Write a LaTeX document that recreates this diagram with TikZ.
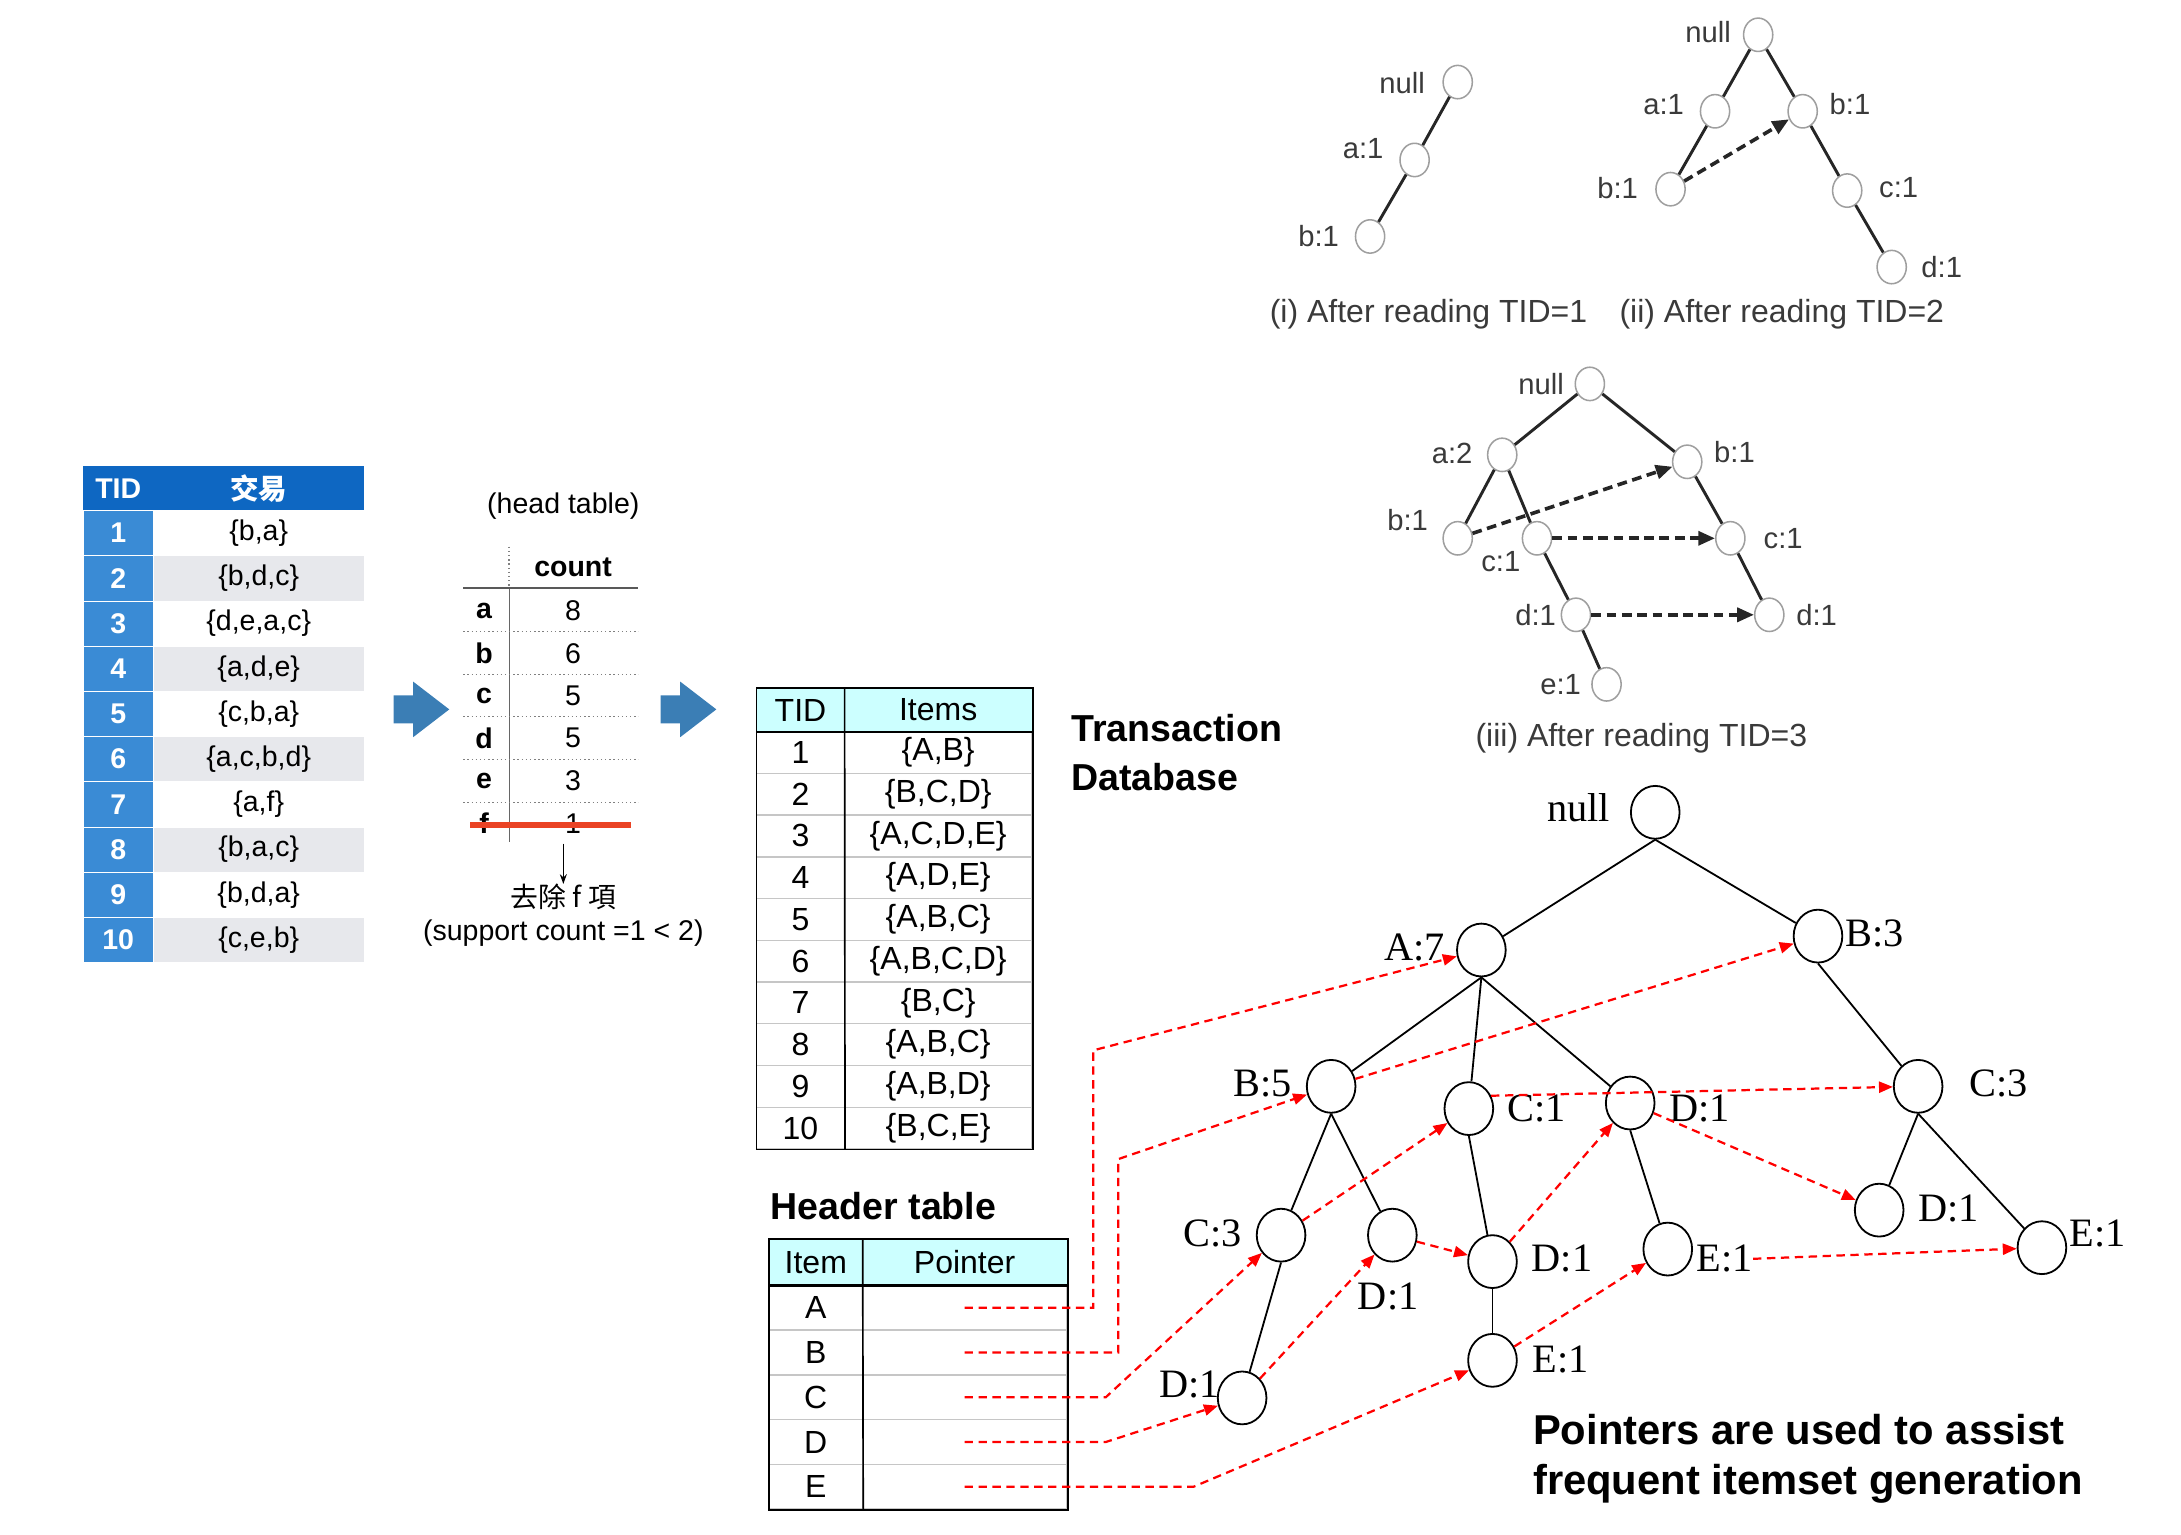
\documentclass[tikz,border=0pt]{standalone}
\usepackage{fontspec}
\setmainfont{Liberation Sans}
\newfontfamily\serifface{Liberation Serif}
\newfontfamily\cjkface{Noto Sans CJK TC}
\usepackage{tikz}
\usetikzlibrary{shapes.geometric, arrows.meta, positioning, calc}
\definecolor{hdblue}{HTML}{0E67C2}
\definecolor{tidblue}{HTML}{3A8BD5}
\definecolor{rowgray}{HTML}{E7E8EC}
\definecolor{paleaqua}{HTML}{CCFFFF}
\definecolor{steelarrow}{HTML}{3B7EB5}
\definecolor{cutred}{HTML}{EA4324}
\definecolor{inkgray}{HTML}{3A3A3A}
\tikzset{
  tidhd/.style    = {rectangle, fill=hdblue, text=white, inner sep=0,
                     minimum height=32, font=\bfseries\fontsize{20.5}{22}\selectfont},
  tidcell/.style  = {rectangle, fill=tidblue, draw=white, text=white, inner sep=0,
                     minimum width=50, minimum height=32.5,
                     font=\bfseries\fontsize{20.5}{22}\selectfont},
  txcell/.style   = {rectangle, draw=white, inner sep=0, minimum width=152,
                     minimum height=32.5, font=\fontsize{20.5}{22}\selectfont},
  hdtxt/.style    = {inner sep=0, font=\fontsize{20.5}{22}\selectfont},
  hdkey/.style    = {inner sep=0, font=\bfseries\fontsize{20.5}{22}\selectfont},
  dbhd/.style     = {rectangle, fill=paleaqua, inner sep=0, minimum height=31,
                     font=\fontsize{23}{25}\selectfont},
  dbcell/.style   = {rectangle, draw=gray!45, line width=1, inner sep=0,
                     minimum height=30, font=\fontsize{23}{25}\selectfont},
  hthd/.style     = {rectangle, fill=paleaqua, inner sep=0, minimum height=33,
                     font=\fontsize{23}{25}\selectfont},
  htcell/.style   = {rectangle, draw=gray!45, line width=1.2, inner sep=0,
                     minimum height=32.2, font=\fontsize{23}{25}\selectfont},
  bigbold/.style  = {inner sep=0, align=left,
                     font=\bfseries\fontsize{27}{35}\selectfont},
  fpnode/.style   = {ellipse, draw, line width=1.3, minimum width=35,
                     minimum height=38, inner sep=0},
  fplabel/.style  = {inner sep=0, font=\serifface\fontsize{29}{29}\selectfont},
  fpedge/.style   = {line width=1.3},
  ptr/.style      = {red, line width=1.6, dash pattern=on 6 off 4,
                     -{Triangle[length=10, width=8]}},
  mini/.style     = {ellipse, draw=gray!75, line width=1.1, minimum width=21,
                     minimum height=24, inner sep=0},
  minilabel/.style= {inner sep=0, text=inkgray, font=\fontsize{21}{21}\selectfont},
  miniedge/.style = {line width=2.1, black!85},
  minilink/.style = {line width=2.6, black!85, dash pattern=on 7 off 4,
                     -{Triangle[length=12, width=10]}},
}

\begin{document}
\begin{tikzpicture}[x=1pt, y=-1pt]
  \useasboundingbox (0,0) rectangle (1568,1103);

  % raw transactions
  \node[tidhd, minimum width=50] (tidH) at (85,351) {TID};
  \node[tidhd, minimum width=152] (txH) at (186,351) {\cjkface 交易};
  \foreach \i/\s/\c in {1/{b,a}/white, 2/{b,d,c}/rowgray, 3/{d,e,a,c}/white,
      4/{a,d,e}/rowgray, 5/{c,b,a}/white, 6/{a,c,b,d}/rowgray, 7/{a,f}/white,
      8/{b,a,c}/rowgray, 9/{b,d,a}/white, 10/{c,e,b}/rowgray} {
    \node[tidcell] (tid\i) at (85,{367+32.5*(\i-0.5)}) {\i};
    \node[txcell, fill=\c] (tx\i) at (186,{367+32.5*(\i-0.5)}) {\{\s\}};
  }

  \coordinate (go1) at (283,510);
  \coordinate (go2) at (475,510);
  \foreach \c in {go1, go2}
    \fill[steelarrow] (\c) ++(0,-10) -- ++(14,0) -- ++(0,-10) -- ++(26,20)
      -- ++(-26,20) -- ++(0,-10) -- ++(-14,0) -- cycle;

  % head table
  \node[hdtxt] (headT) at (405,364) {(head table)};
  \node[hdkey] (countH) at (412,408) {count};
  \foreach \k/\v [count=\j] in {a/8, b/6, c/5, d/5, e/3, f/1} {
    \node[hdkey] (key\k) at (348,{439+30.6*(\j-1)}) {\k};
    \node[hdtxt] (val\k) at (412,{439+30.6*(\j-1)}) {\v};
  }
  \draw[gray, dotted, line width=1] (366,393) -- (366,423);
  \draw[gray!80!black, line width=0.8] (366,423) -- (366,605);
  \draw[gray!70!black, line width=1.4] (333,423) -- (459,423);
  \foreach \y in {454,485,515,546,577}
    \draw[gray, dotted, line width=1] (333,\y) -- (459,\y);
  \draw[cutred, line width=4] (338,593) -- (454,593);
  \node[inner sep=0, font=\cjkface\fontsize{20}{22}\selectfont] (drop) at (405,645) {去除 f 項};
  \node[hdtxt] (why) at (405,671) {(support count =1 < 2)};
  \draw[line width=1, -{Stealth[length=7, width=5]}] (drop.north) ++(0,-29) -- (drop.north);

  % transaction database
  \node[dbhd, minimum width=63] (dbTID) at (575.5,510.5) {TID};
  \node[dbhd, minimum width=135] (dbItems) at (674.5,510.5) {Items};
  \foreach \i/\s in {1/{A,B}, 2/{B,C,D}, 3/{A,C,D,E}, 4/{A,D,E}, 5/{A,B,C},
      6/{A,B,C,D}, 7/{B,C}, 8/{A,B,C}, 9/{A,B,D}, 10/{B,C,E}} {
    \node[dbcell, minimum width=63] (dbt\i) at (575.5,{526+30*(\i-0.5)}) {\i};
    \node[dbcell, minimum width=135] (dbi\i) at (674.5,{526+30*(\i-0.5)}) {\{\s\}};
  }
  \draw[line width=1.2] (dbTID.north west) rectangle (dbi10.south east);
  \draw[line width=1.2] (dbTID.north east) -- (dbt10.south east);
  \draw[line width=1.2] (dbTID.south west) -- (dbItems.south east);
  \node[bigbold, anchor=west] (dbname) at (770,541) {Transaction\\Database};

  % header table
  \node[bigbold, anchor=west] (hdrname) at (554,867) {Header table};
  \node[hthd, minimum width=67] (htItem) at (586.5,907.5) {Item};
  \node[hthd, minimum width=147] (htPtr) at (693.5,907.5) {Pointer};
  \foreach \k [count=\j] in {A,B,C,D,E} {
    \node[htcell, minimum width=67] (hi\k) at (586.5,{924+32.2*(\j-0.5)}) {\k};
    \node[htcell, minimum width=147] (p\k) at (693.5,{924+32.2*(\j-0.5)}) {};
  }
  \draw[line width=1.2] (htItem.north west) rectangle (pE.south east);
  \draw[line width=1.2] (htItem.north east) -- (hiE.south east);
  \draw[line width=2] (htItem.south west) -- (htPtr.south east);

  % FP-tree
  \foreach \n/\x/\y in {root/1190/584, A7/1065/683, B3/1307/673, B5/957/781,
      C1/1056/797, D1a/1172/793, C3r/1379/781, C3l/921/888, D1b/1001/888,
      D1c/1073/907, E1a/1199/898, D1r/1351/870, E1r/1468/897, D1l/893/1005,
      E1c/1073/978}
    \node[fpnode] (\n) at (\x,\y) {};
  \foreach \n/\x/\y/\t in {root/1135/581/null, A7/1017/681/A:7, B3/1348/671/B:3,
      B5/908/779/B:5, C1/1105/797/C:1, D1a/1222/797/D:1, C3r/1437/779/C:3,
      C3l/872/887/C:3, D1b/998/932/D:1, D1c/1123/905/D:1, E1a/1240/905/E:1,
      D1r/1401/869/D:1, E1r/1508/887/E:1, D1l/855/995/D:1, E1c/1122/977/E:1}
    \node[fplabel] (\n-lbl) at (\x,\y) {\t};
  \foreach \a/\b in {root/A7, root/B3, A7/B5, A7/C1, A7/D1a, B3/C3r, B5/C3l,
      B5/D1b, C1/D1c, D1a/E1a, C3r/D1r, C3r/E1r, C3l/D1l, D1c/E1c}
    \draw[fpedge] (\a.south) -- (\b);

  \draw[ptr] (pA.center) -- ++(92.5,0) -- ++(0,-185) -- (A7);
  \draw[ptr] (pB.center) -- ++(110.5,0) -- ++(0,-139) -- (B5);
  \draw[ptr] (pC.center) -- ++(101.5,0) -- (C3l);
  \draw[ptr] (pD.center) -- ++(101.5,0) -- (D1l);
  \draw[ptr] (pE.center) -- ++(164.5,0) -- (E1c);
  \draw[ptr] (B5) -- (B3);
  \draw[ptr] (C3l) -- (C1);
  \draw[ptr] (C1.30) -- (C3r);
  \draw[ptr] (D1l) -- (D1b);
  \draw[ptr] (D1b) -- (D1c);
  \draw[ptr] (D1c) -- (D1a);
  \draw[ptr] (D1a) -- (D1r);
  \draw[ptr] (E1c) -- (E1a);
  \draw[ptr] (E1a-lbl.east) -- (E1r);
  \node[bigbold, anchor=west, font=\bfseries\fontsize{30}{36}\selectfont] (note) at (1102,1049)
    {Pointers are used to assist\\frequent itemset generation};

  % construction steps
  \foreach \n/\x/\y/\t/\lx/\ly in {r1/1048/59/null/1008/60, a1/1017/115/a:1/980/107,
      b1/985/170/b:1/948/170,
      r2/1264/25/null/1228/23, a2/1233/80/a:1/1196/75, b2/1296/80/b:1/1330/75,
      ab2/1201/136/b:1/1163/135, c2/1328/137/c:1/1365/135, d2/1360/192/d:1/1396/192,
      r3/1143/276/null/1108/276, a3/1080/327/a:2/1044/326, b3/1213/332/b:1/1247/325,
      ab3/1048/387/b:1/1012/374, ac3/1105/387/c:1/1079/404, bc3/1244/387/c:1/1282/387,
      acd3/1133/442/d:1/1104/442, bcd3/1272/442/d:1/1306/442, e3/1155/492/e:1/1122/492} {
    \node[mini] (\n) at (\x,\y) {};
    \node[minilabel] (\n-lbl) at (\lx,\ly) {\t};
  }
  \foreach \a/\b in {r1/a1, a1/b1, r2/a2, r2/b2, a2/ab2, b2/c2, c2/d2,
      r3/a3, r3/b3, a3/ab3, a3/ac3, ac3/acd3, acd3/e3, b3/bc3, bc3/bcd3}
    \draw[miniedge] (\a) -- (\b);
  \draw[minilink] (ab2) -- (b2);
  \draw[minilink] (ab3) -- (b3);
  \draw[minilink] (ac3) -- (bc3);
  \draw[minilink] (acd3) -- (bcd3);
  \node[minilabel, font=\fontsize{23}{23}\selectfont] (cap1) at (1027,226) {(i) After reading TID=1};
  \node[minilabel, font=\fontsize{23}{23}\selectfont] (cap2) at (1281,226) {(ii) After reading TID=2};
  \node[minilabel, font=\fontsize{23}{23}\selectfont] (cap3) at (1180,531) {(iii) After reading TID=3};
\end{tikzpicture}
\end{document}
